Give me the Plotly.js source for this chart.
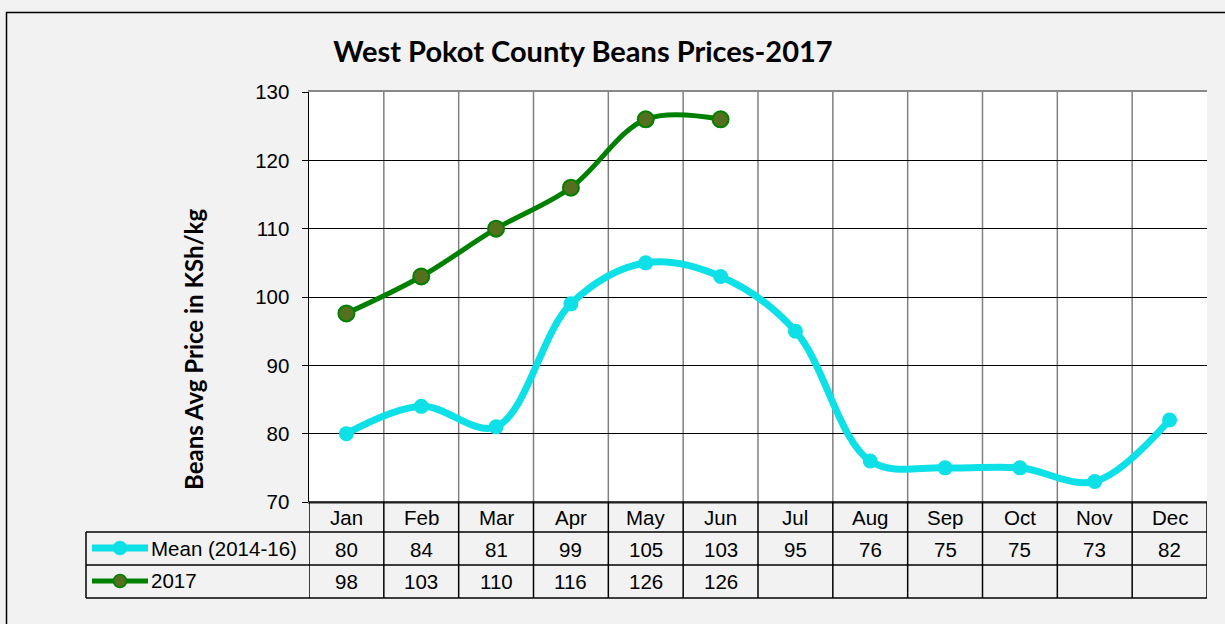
<!DOCTYPE html>
<html><head><meta charset="utf-8">
<script src="https://cdn.plot.ly/plotly-3.0.1.min.js"></script>
<style>html,body{margin:0;padding:0;background:#f2f2f2;overflow:hidden}#c{width:1225px;height:624px}</style>
</head><body><div id="c"></div>
<script>
const months = ["Jan","Feb","Mar","Apr","May","Jun","Jul","Aug","Sep","Oct","Nov","Dec"];
const meanName = "Mean (2014-16)";
const meanVals = [80, 84, 81, 99, 105, 103, 95, 76, 75, 75, 73, 82];
const y2017Name = "2017";
const y2017Vals = [97.6, 103, 110, 116, 126, 126, null, null, null, null, null, null];
const yTicks = [70, 80, 90, 100, 110, 120, 130];

const W = 1225, H = 624, L = 309, R = 1207, T = 92, B = 502;
const px = p => (p - L) / (R - L);
const py = p => (B - p) / (B - T);
const cyan = "rgb(13,224,230)", green = "rgb(0,128,0)", olive = "rgb(84,112,30)";
const idx = months.map((m, i) => i);
const FONT = "Liberation Sans, Arial, sans-serif";
const FS = 20.5;

const traces = [
  {x: idx, y: meanVals, name: meanName, mode: "lines+markers", line: {color: cyan, width: 7, shape: "spline", smoothing: 1},
   marker: {color: cyan, size: 15}, hoverinfo: "y"},
  {x: idx, y: y2017Vals, name: y2017Name, mode: "lines+markers", line: {color: green, width: 5, shape: "spline", smoothing: 1},
   marker: {color: olive, size: 16, line: {color: green, width: 2}}, hoverinfo: "y"}
];

const shapes = [];
const ann = [];
// outer border (top and left edges only visible)
shapes.push({type: "line", xref: "paper", yref: "paper", x0: px(6), x1: px(1225), y0: py(12.5), y1: py(12.5), line: {color: "#000", width: 1.5}, layer: "below"});
shapes.push({type: "line", xref: "paper", yref: "paper", x0: px(6.5), x1: px(6.5), y0: py(12), y1: py(624), line: {color: "#000", width: 1.5}, layer: "below"});
// vertical gray gridlines at category boundaries
for (let i = 1; i < months.length; i++) {
  shapes.push({type: "line", xref: "x", yref: "paper", x0: i - 0.5, x1: i - 0.5, y0: 0, y1: 1, line: {color: "#808080", width: 1.5}, layer: "below"});
}
// table lines
const rowLines = [532, 565, 598];
rowLines.forEach(r => shapes.push({type: "line", xref: "paper", yref: "paper", x0: px(86), x1: 1, y0: py(r), y1: py(r), line: {color: "#000", width: 1.5}}));
shapes.push({type: "line", xref: "paper", yref: "paper", x0: px(86), x1: px(86), y0: py(532), y1: py(598), line: {color: "#000", width: 1.5}});
for (let i = 0; i <= months.length; i++) {
  shapes.push({type: "line", xref: "x", yref: "paper", x0: i - 0.5, x1: i - 0.5, y0: 0, y1: py(598), line: {color: "#000", width: 1.5}});
}
shapes.push({type: "line", xref: "paper", yref: "paper", x0: 0, x1: 1, y0: 0, y1: 0, line: {color: "#000", width: 1.5}});
// legend samples in table
const legRows = [[548, cyan, 7, cyan, 15, cyan], [581, green, 5, olive, 15, green]];
legRows.forEach(([yy, lc, lw, mc, ms, mlc]) => {
  shapes.push({type: "line", xref: "paper", yref: "paper", x0: px(92), x1: px(148), y0: py(yy), y1: py(yy), line: {color: lc, width: lw}});
  shapes.push({type: "circle", xref: "paper", yref: "paper", x0: px(120 - ms/2 + 1), x1: px(120 + ms/2 - 1), y0: py(yy + ms/2 - 1), y1: py(yy - ms/2 + 1), fillcolor: mc, line: {color: mlc, width: 1.5}});
});
// cover right page edge
shapes.push({type: "rect", xref: "paper", yref: "paper", x0: px(1212), x1: px(1230), y0: py(14), y1: py(630), fillcolor: "#f2f2f2", line: {width: 0}});
ann.push({xref: "paper", yref: "paper", x: px(149), y: py(548), text: meanName, showarrow: false, xanchor: "left", yanchor: "middle", font: {family: FONT, size: FS, color: "#000"}});
ann.push({xref: "paper", yref: "paper", x: px(149), y: py(580), text: y2017Name, showarrow: false, xanchor: "left", yanchor: "middle", font: {family: FONT, size: FS, color: "#000"}});
months.forEach((m, i) => {
  ann.push({xref: "x", yref: "paper", x: i, y: py(517), text: m, showarrow: false, yanchor: "middle", font: {family: FONT, size: FS, color: "#000"}});
  ann.push({xref: "x", yref: "paper", x: i, y: py(549), text: String(Math.round(meanVals[i])), showarrow: false, yanchor: "middle", font: {family: FONT, size: FS, color: "#000"}});
  if (y2017Vals[i] != null)
    ann.push({xref: "x", yref: "paper", x: i, y: py(581), text: String(Math.round(y2017Vals[i])), showarrow: false, yanchor: "middle", font: {family: FONT, size: FS, color: "#000"}});
});
// y-axis title (offset downward as in the original)
ann.push({xref: "paper", yref: "paper", x: px(193), y: py(350), text: "<b>Beans Avg Price in KSh/kg</b>", textangle: -90, showarrow: false,
          xanchor: "center", yanchor: "middle", font: {family: "Lato, Carlito, sans-serif", size: 24, color: "#000"}});

const layout = {
  width: W, height: H,
  paper_bgcolor: "#f2f2f2", plot_bgcolor: "#ffffff",
  margin: {l: L, r: W - R, t: T, b: H - B, pad: 0},
  showlegend: false,
  title: {text: "<b>West Pokot County Beans Prices-2017</b>", x: 583 / W, xanchor: "center", y: 1 - 52 / H, yanchor: "middle",
          font: {family: "Lato, Carlito, sans-serif", size: 29, color: "#000"}},
  xaxis: {range: [-0.5, 11.5], showticklabels: false, showgrid: false, zeroline: false, ticks: "", fixedrange: true,
          mirror: true, showline: true, linecolor: "#888", linewidth: 2},
  yaxis: {range: [70, 130], tickvals: yTicks, ticks: "outside", ticklen: 6, tickcolor: "#000", tickwidth: 1, ticklabelstandoff: 8,
          showgrid: true, gridcolor: "#000", gridwidth: 1, zeroline: false, showline: true, linecolor: "#000", linewidth: 1.5,
          tickfont: {family: FONT, size: FS, color: "#000"}},
  shapes: shapes, annotations: ann
};
Plotly.newPlot("c", traces, layout, {staticPlot: true});
</script></body></html>
